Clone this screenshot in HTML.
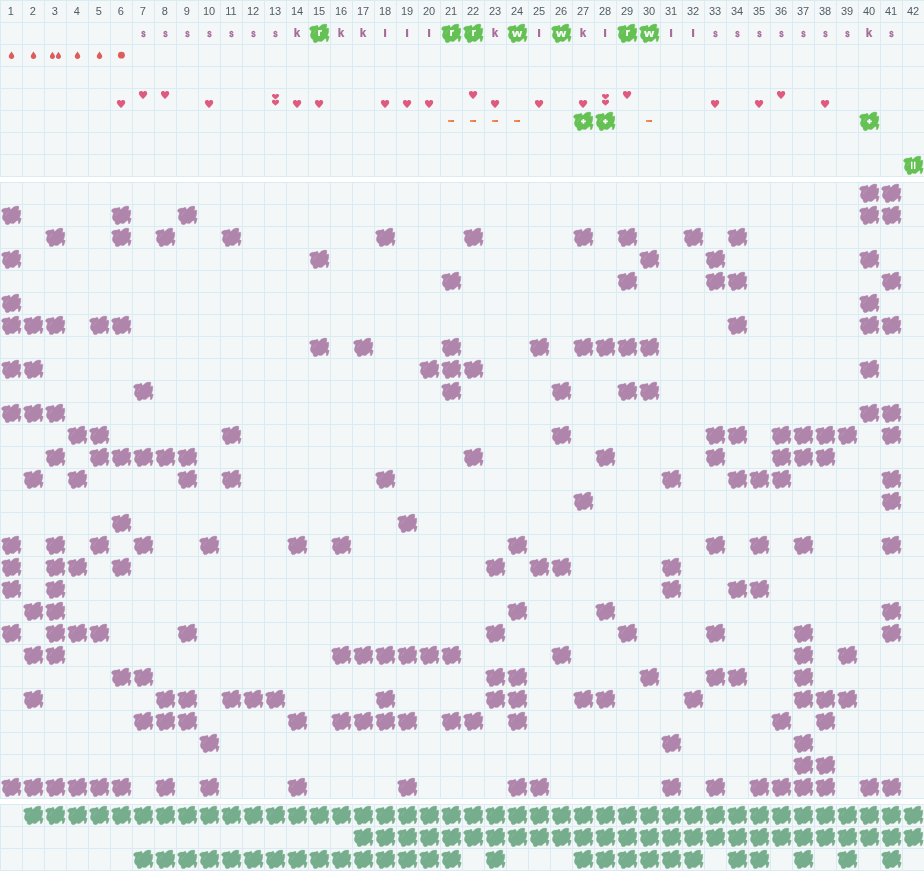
<!DOCTYPE html><html><head><meta charset="utf-8"><title>chart</title>
<style>html,body{margin:0;padding:0;background:#fff;}body{width:924px;height:871px;overflow:hidden;font-family:"Liberation Sans",sans-serif;}svg{display:block;will-change:transform;opacity:0.999;}text{font-family:"Liberation Sans",sans-serif;}</style></head><body>
<svg width="924" height="871" viewBox="0 0 924 871">
<defs>
<g id="b"><path d="M1.5 6.3 L2.5 5.05 L4.3 4.2 L7.4 4 L8.8 3.25 L9.85 3.5 L10.4 5.6 L11.4 5.1 L13.1 3.3 L15.15 2.3 L18.2 2 L18.9 2.8 L18.7 5.05 L18.2 6.8 L19.9 6.05 L20.8 6.3 L20.7 10.1 L19.95 12.6 L19.4 13.6 L21.3 14.4 L21 15.4 L20.45 17.7 L19.7 19.4 L18.4 19.7 L18.2 17.2 L17.7 16.2 L15.7 17.7 L13.9 19.4 L11.4 19.4 L10.6 18.9 L8.6 20.45 L6.6 20.7 L5.3 19.7 L5.05 17.7 L3.3 16.2 L2.3 14.1 L2.5 12.1 L3.3 10.1 L3 8.6 L1.8 7.8 Z" stroke-width="0.3" stroke-linejoin="round" stroke="currentColor" fill="currentColor"/><path d="M5.4 11.7 L8.7 7.3" stroke="#fff" stroke-opacity="0.4" stroke-width="0.5" stroke-dasharray="0.9 0.35" fill="none"/><path d="M3.3 9.3 L3.8 8.0" stroke="#fff" stroke-opacity="0.3" stroke-width="0.5" fill="none"/></g>
<path id="h" d="M5 9 C4.4 8.4 0 5.2 0 2.6 C0 1 1.1 0 2.6 0 C3.7 0 4.6 0.6 5 1.5 C5.4 0.6 6.3 0 7.4 0 C8.9 0 10 1 10 2.6 C10 5.2 5.6 8.4 5 9 Z"/>
<path id="d" d="M3 0 C3.6 1.4 6 3.4 6 5.2 C6 6.8 4.7 8 3 8 C1.3 8 0 6.8 0 5.2 C0 3.4 2.4 1.4 3 0 Z"/>
<linearGradient id="og" x1="0" x2="1" y1="0" y2="0"><stop offset="0" stop-color="#f69468"/><stop offset="1" stop-color="#ee6f40"/></linearGradient>
</defs>
<rect x="0" y="0" width="924" height="177" fill="#f4f7f8"/><path d="M0.5 0V177M22.5 0V177M44.5 0V177M66.5 0V177M88.5 0V177M110.5 0V177M132.5 0V177M154.5 0V177M176.5 0V177M198.5 0V177M220.5 0V177M242.5 0V177M264.5 0V177M286.5 0V177M308.5 0V177M330.5 0V177M352.5 0V177M374.5 0V177M396.5 0V177M418.5 0V177M440.5 0V177M462.5 0V177M484.5 0V177M506.5 0V177M528.5 0V177M550.5 0V177M572.5 0V177M594.5 0V177M616.5 0V177M638.5 0V177M660.5 0V177M682.5 0V177M704.5 0V177M726.5 0V177M748.5 0V177M770.5 0V177M792.5 0V177M814.5 0V177M836.5 0V177M858.5 0V177M880.5 0V177M902.5 0V177M924.5 0V177M0 0.5H924M0 22.5H924M0 44.5H924M0 66.5H924M0 88.5H924M0 110.5H924M0 132.5H924M0 154.5H924M0 176.5H924" stroke="#d9ebf3" stroke-width="1" fill="none" shape-rendering="crispEdges"/>
<rect x="0" y="182" width="924" height="617" fill="#f4f7f8"/><path d="M0.5 182V799M22.5 182V799M44.5 182V799M66.5 182V799M88.5 182V799M110.5 182V799M132.5 182V799M154.5 182V799M176.5 182V799M198.5 182V799M220.5 182V799M242.5 182V799M264.5 182V799M286.5 182V799M308.5 182V799M330.5 182V799M352.5 182V799M374.5 182V799M396.5 182V799M418.5 182V799M440.5 182V799M462.5 182V799M484.5 182V799M506.5 182V799M528.5 182V799M550.5 182V799M572.5 182V799M594.5 182V799M616.5 182V799M638.5 182V799M660.5 182V799M682.5 182V799M704.5 182V799M726.5 182V799M748.5 182V799M770.5 182V799M792.5 182V799M814.5 182V799M836.5 182V799M858.5 182V799M880.5 182V799M902.5 182V799M924.5 182V799M0 182.5H924M0 204.5H924M0 226.5H924M0 248.5H924M0 270.5H924M0 292.5H924M0 314.5H924M0 336.5H924M0 358.5H924M0 380.5H924M0 402.5H924M0 424.5H924M0 446.5H924M0 468.5H924M0 490.5H924M0 512.5H924M0 534.5H924M0 556.5H924M0 578.5H924M0 600.5H924M0 622.5H924M0 644.5H924M0 666.5H924M0 688.5H924M0 710.5H924M0 732.5H924M0 754.5H924M0 776.5H924M0 798.5H924" stroke="#d9ebf3" stroke-width="1" fill="none" shape-rendering="crispEdges"/>
<rect x="0" y="804" width="924" height="67" fill="#f4f7f8"/><path d="M0.5 804V871M22.5 804V871M44.5 804V871M66.5 804V871M88.5 804V871M110.5 804V871M132.5 804V871M154.5 804V871M176.5 804V871M198.5 804V871M220.5 804V871M242.5 804V871M264.5 804V871M286.5 804V871M308.5 804V871M330.5 804V871M352.5 804V871M374.5 804V871M396.5 804V871M418.5 804V871M440.5 804V871M462.5 804V871M484.5 804V871M506.5 804V871M528.5 804V871M550.5 804V871M572.5 804V871M594.5 804V871M616.5 804V871M638.5 804V871M660.5 804V871M682.5 804V871M704.5 804V871M726.5 804V871M748.5 804V871M770.5 804V871M792.5 804V871M814.5 804V871M836.5 804V871M858.5 804V871M880.5 804V871M902.5 804V871M924.5 804V871M0 804.5H924M0 826.5H924M0 848.5H924M0 870.5H924" stroke="#d9ebf3" stroke-width="1" fill="none" shape-rendering="crispEdges"/>
<g font-size="11" fill="#4e5d65" text-anchor="middle">
<text x="10.7" y="15">1</text>
<text x="32.7" y="15">2</text>
<text x="54.7" y="15">3</text>
<text x="76.7" y="15">4</text>
<text x="98.7" y="15">5</text>
<text x="120.7" y="15">6</text>
<text x="142.7" y="15">7</text>
<text x="164.7" y="15">8</text>
<text x="186.7" y="15">9</text>
<text x="209.0" y="15">10</text>
<text x="231.0" y="15">11</text>
<text x="253.0" y="15">12</text>
<text x="275.0" y="15">13</text>
<text x="297.0" y="15">14</text>
<text x="319.0" y="15">15</text>
<text x="341.0" y="15">16</text>
<text x="363.0" y="15">17</text>
<text x="385.0" y="15">18</text>
<text x="407.0" y="15">19</text>
<text x="429.0" y="15">20</text>
<text x="451.0" y="15">21</text>
<text x="473.0" y="15">22</text>
<text x="495.0" y="15">23</text>
<text x="517.0" y="15">24</text>
<text x="539.0" y="15">25</text>
<text x="561.0" y="15">26</text>
<text x="583.0" y="15">27</text>
<text x="605.0" y="15">28</text>
<text x="627.0" y="15">29</text>
<text x="649.0" y="15">30</text>
<text x="671.0" y="15">31</text>
<text x="693.0" y="15">32</text>
<text x="715.0" y="15">33</text>
<text x="737.0" y="15">34</text>
<text x="759.0" y="15">35</text>
<text x="781.0" y="15">36</text>
<text x="803.0" y="15">37</text>
<text x="825.0" y="15">38</text>
<text x="847.0" y="15">39</text>
<text x="869.0" y="15">40</text>
<text x="891.0" y="15">41</text>
<text x="913.0" y="15">42</text>
</g>
<use href="#b" x="308" y="22" color="#65c154"/>
<use href="#b" x="440" y="22" color="#65c154"/>
<use href="#b" x="462" y="22" color="#65c154"/>
<use href="#b" x="506" y="22" color="#65c154"/>
<use href="#b" x="550" y="22" color="#65c154"/>
<use href="#b" x="616" y="22" color="#65c154"/>
<use href="#b" x="638" y="22" color="#65c154"/>
<g font-size="12" font-weight="bold" text-anchor="middle">
<text transform="translate(143.5 36.9) scale(0.66 0.93)" fill="#a66b99" stroke="#a66b99" stroke-width="0.5">s</text>
<text transform="translate(165.5 36.9) scale(0.66 0.93)" fill="#a66b99" stroke="#a66b99" stroke-width="0.5">s</text>
<text transform="translate(187.5 36.9) scale(0.66 0.93)" fill="#a66b99" stroke="#a66b99" stroke-width="0.5">s</text>
<text transform="translate(209.5 36.9) scale(0.66 0.93)" fill="#a66b99" stroke="#a66b99" stroke-width="0.5">s</text>
<text transform="translate(231.5 36.9) scale(0.66 0.93)" fill="#a66b99" stroke="#a66b99" stroke-width="0.5">s</text>
<text transform="translate(253.5 36.9) scale(0.66 0.93)" fill="#a66b99" stroke="#a66b99" stroke-width="0.5">s</text>
<text transform="translate(275.5 36.9) scale(0.66 0.93)" fill="#a66b99" stroke="#a66b99" stroke-width="0.5">s</text>
<text transform="translate(297.1 37) scale(0.97 1.0)" fill="#a66b99" stroke="#a66b99" stroke-width="0.25">k</text>
<text transform="translate(319.6 36.1) scale(0.95 0.95)" fill="#fff" stroke="#fff" stroke-width="0.25">r</text>
<text transform="translate(341.1 37) scale(0.97 1.0)" fill="#a66b99" stroke="#a66b99" stroke-width="0.25">k</text>
<text transform="translate(363.1 37) scale(0.97 1.0)" fill="#a66b99" stroke="#a66b99" stroke-width="0.25">k</text>
<rect x="384.05" y="29" width="2.1" height="8" fill="#a66b99"/>
<rect x="406.05" y="29" width="2.1" height="8" fill="#a66b99"/>
<rect x="428.05" y="29" width="2.1" height="8" fill="#a66b99"/>
<text transform="translate(451.6 36.1) scale(0.95 0.95)" fill="#fff" stroke="#fff" stroke-width="0.25">r</text>
<text transform="translate(473.6 36.1) scale(0.95 0.95)" fill="#fff" stroke="#fff" stroke-width="0.25">r</text>
<text transform="translate(495.1 37) scale(0.97 1.0)" fill="#a66b99" stroke="#a66b99" stroke-width="0.25">k</text>
<text transform="translate(517.2 37) scale(1.05 0.95)" fill="#fff" stroke="#fff" stroke-width="0.25">w</text>
<rect x="538.05" y="29" width="2.1" height="8" fill="#a66b99"/>
<text transform="translate(561.2 37) scale(1.05 0.95)" fill="#fff" stroke="#fff" stroke-width="0.25">w</text>
<text transform="translate(583.1 37) scale(0.97 1.0)" fill="#a66b99" stroke="#a66b99" stroke-width="0.25">k</text>
<rect x="604.05" y="29" width="2.1" height="8" fill="#a66b99"/>
<text transform="translate(627.6 36.1) scale(0.95 0.95)" fill="#fff" stroke="#fff" stroke-width="0.25">r</text>
<text transform="translate(649.2 37) scale(1.05 0.95)" fill="#fff" stroke="#fff" stroke-width="0.25">w</text>
<rect x="670.05" y="29" width="2.1" height="8" fill="#a66b99"/>
<rect x="692.05" y="29" width="2.1" height="8" fill="#a66b99"/>
<text transform="translate(715.5 36.9) scale(0.66 0.93)" fill="#a66b99" stroke="#a66b99" stroke-width="0.5">s</text>
<text transform="translate(737.5 36.9) scale(0.66 0.93)" fill="#a66b99" stroke="#a66b99" stroke-width="0.5">s</text>
<text transform="translate(759.5 36.9) scale(0.66 0.93)" fill="#a66b99" stroke="#a66b99" stroke-width="0.5">s</text>
<text transform="translate(781.5 36.9) scale(0.66 0.93)" fill="#a66b99" stroke="#a66b99" stroke-width="0.5">s</text>
<text transform="translate(803.5 36.9) scale(0.66 0.93)" fill="#a66b99" stroke="#a66b99" stroke-width="0.5">s</text>
<text transform="translate(825.5 36.9) scale(0.66 0.93)" fill="#a66b99" stroke="#a66b99" stroke-width="0.5">s</text>
<text transform="translate(847.5 36.9) scale(0.66 0.93)" fill="#a66b99" stroke="#a66b99" stroke-width="0.5">s</text>
<text transform="translate(869.1 37) scale(0.97 1.0)" fill="#a66b99" stroke="#a66b99" stroke-width="0.25">k</text>
<text transform="translate(891.5 36.9) scale(0.66 0.93)" fill="#a66b99" stroke="#a66b99" stroke-width="0.5">s</text>
</g>
<g fill="#dd5c5c">
<use href="#d" transform="translate(8.75 51.4) scale(0.92 0.95)"/>
<use href="#d" transform="translate(30.75 51.4) scale(0.92 0.95)"/>
<use href="#d" transform="translate(49.9 51.7) scale(0.85 0.91)"/>
<use href="#d" transform="translate(55.9 51.7) scale(0.85 0.91)"/>
<use href="#d" transform="translate(74.75 51.4) scale(0.92 0.95)"/>
<use href="#d" transform="translate(96.75 51.4) scale(0.92 0.95)"/>
<circle cx="121.4" cy="55.15" r="3.45"/>
</g>
<g fill="#de5a7e">
<use href="#h" transform="translate(116.9 100) scale(0.83 0.89)"/>
<use href="#h" transform="translate(138.9 90.9) scale(0.83 0.89)"/>
<use href="#h" transform="translate(160.9 90.9) scale(0.83 0.89)"/>
<use href="#h" transform="translate(204.9 100) scale(0.83 0.89)"/>
<use href="#h" transform="translate(271.9 93.9) scale(0.72 0.6)"/>
<use href="#h" transform="translate(271.9 99.7) scale(0.72 0.65)"/>
<use href="#h" transform="translate(292.9 100) scale(0.83 0.89)"/>
<use href="#h" transform="translate(314.9 100) scale(0.83 0.89)"/>
<use href="#h" transform="translate(380.9 100) scale(0.83 0.89)"/>
<use href="#h" transform="translate(402.9 100) scale(0.83 0.89)"/>
<use href="#h" transform="translate(424.9 100) scale(0.83 0.89)"/>
<use href="#h" transform="translate(468.9 90.9) scale(0.83 0.89)"/>
<use href="#h" transform="translate(490.9 100) scale(0.83 0.89)"/>
<use href="#h" transform="translate(534.9 100) scale(0.83 0.89)"/>
<use href="#h" transform="translate(578.9 100) scale(0.83 0.89)"/>
<use href="#h" transform="translate(601.9 93.9) scale(0.72 0.6)"/>
<use href="#h" transform="translate(601.9 99.7) scale(0.72 0.65)"/>
<use href="#h" transform="translate(622.9 90.9) scale(0.83 0.89)"/>
<use href="#h" transform="translate(710.9 100) scale(0.83 0.89)"/>
<use href="#h" transform="translate(754.9 100) scale(0.83 0.89)"/>
<use href="#h" transform="translate(776.9 90.9) scale(0.83 0.89)"/>
<use href="#h" transform="translate(820.9 100) scale(0.83 0.89)"/>
</g>
<rect x="448" y="120" width="6" height="2" fill="url(#og)"/>
<rect x="470" y="120" width="6" height="2" fill="url(#og)"/>
<rect x="492" y="120" width="6" height="2" fill="url(#og)"/>
<rect x="514" y="120" width="6" height="2" fill="url(#og)"/>
<rect x="646" y="120" width="6" height="2" fill="url(#og)"/>
<use href="#b" x="572" y="110" color="#65c154"/>
<path d="M581 121.4h4.8M583.4 119v4.8" stroke="#fff" stroke-width="1.7" fill="none"/>
<use href="#b" x="594" y="110" color="#65c154"/>
<path d="M603 121.4h4.8M605.4 119v4.8" stroke="#fff" stroke-width="1.7" fill="none"/>
<use href="#b" x="858" y="110" color="#65c154"/>
<path d="M867 121.4h4.8M869.4 119v4.8" stroke="#fff" stroke-width="1.7" fill="none"/>
<use href="#b" x="902" y="154" color="#65c154"/>
<path d="M911.7 161.7v7.3M914.7 161.7v7.3" stroke="#fff" stroke-width="1.4" fill="none"/>
<use href="#b" x="858" y="182" color="#b085ab"/>
<use href="#b" x="880" y="182" color="#b085ab"/>
<use href="#b" x="0" y="204" color="#b085ab"/>
<use href="#b" x="110" y="204" color="#b085ab"/>
<use href="#b" x="176" y="204" color="#b085ab"/>
<use href="#b" x="858" y="204" color="#b085ab"/>
<use href="#b" x="880" y="204" color="#b085ab"/>
<use href="#b" x="44" y="226" color="#b085ab"/>
<use href="#b" x="110" y="226" color="#b085ab"/>
<use href="#b" x="154" y="226" color="#b085ab"/>
<use href="#b" x="220" y="226" color="#b085ab"/>
<use href="#b" x="374" y="226" color="#b085ab"/>
<use href="#b" x="462" y="226" color="#b085ab"/>
<use href="#b" x="572" y="226" color="#b085ab"/>
<use href="#b" x="616" y="226" color="#b085ab"/>
<use href="#b" x="682" y="226" color="#b085ab"/>
<use href="#b" x="726" y="226" color="#b085ab"/>
<use href="#b" x="0" y="248" color="#b085ab"/>
<use href="#b" x="308" y="248" color="#b085ab"/>
<use href="#b" x="638" y="248" color="#b085ab"/>
<use href="#b" x="704" y="248" color="#b085ab"/>
<use href="#b" x="858" y="248" color="#b085ab"/>
<use href="#b" x="440" y="270" color="#b085ab"/>
<use href="#b" x="616" y="270" color="#b085ab"/>
<use href="#b" x="704" y="270" color="#b085ab"/>
<use href="#b" x="726" y="270" color="#b085ab"/>
<use href="#b" x="880" y="270" color="#b085ab"/>
<use href="#b" x="0" y="292" color="#b085ab"/>
<use href="#b" x="858" y="292" color="#b085ab"/>
<use href="#b" x="0" y="314" color="#b085ab"/>
<use href="#b" x="22" y="314" color="#b085ab"/>
<use href="#b" x="44" y="314" color="#b085ab"/>
<use href="#b" x="88" y="314" color="#b085ab"/>
<use href="#b" x="110" y="314" color="#b085ab"/>
<use href="#b" x="726" y="314" color="#b085ab"/>
<use href="#b" x="858" y="314" color="#b085ab"/>
<use href="#b" x="880" y="314" color="#b085ab"/>
<use href="#b" x="308" y="336" color="#b085ab"/>
<use href="#b" x="352" y="336" color="#b085ab"/>
<use href="#b" x="440" y="336" color="#b085ab"/>
<use href="#b" x="528" y="336" color="#b085ab"/>
<use href="#b" x="572" y="336" color="#b085ab"/>
<use href="#b" x="594" y="336" color="#b085ab"/>
<use href="#b" x="616" y="336" color="#b085ab"/>
<use href="#b" x="638" y="336" color="#b085ab"/>
<use href="#b" x="0" y="358" color="#b085ab"/>
<use href="#b" x="22" y="358" color="#b085ab"/>
<use href="#b" x="418" y="358" color="#b085ab"/>
<use href="#b" x="440" y="358" color="#b085ab"/>
<use href="#b" x="462" y="358" color="#b085ab"/>
<use href="#b" x="858" y="358" color="#b085ab"/>
<use href="#b" x="132" y="380" color="#b085ab"/>
<use href="#b" x="440" y="380" color="#b085ab"/>
<use href="#b" x="550" y="380" color="#b085ab"/>
<use href="#b" x="616" y="380" color="#b085ab"/>
<use href="#b" x="638" y="380" color="#b085ab"/>
<use href="#b" x="0" y="402" color="#b085ab"/>
<use href="#b" x="22" y="402" color="#b085ab"/>
<use href="#b" x="44" y="402" color="#b085ab"/>
<use href="#b" x="858" y="402" color="#b085ab"/>
<use href="#b" x="880" y="402" color="#b085ab"/>
<use href="#b" x="66" y="424" color="#b085ab"/>
<use href="#b" x="88" y="424" color="#b085ab"/>
<use href="#b" x="220" y="424" color="#b085ab"/>
<use href="#b" x="550" y="424" color="#b085ab"/>
<use href="#b" x="704" y="424" color="#b085ab"/>
<use href="#b" x="726" y="424" color="#b085ab"/>
<use href="#b" x="770" y="424" color="#b085ab"/>
<use href="#b" x="792" y="424" color="#b085ab"/>
<use href="#b" x="814" y="424" color="#b085ab"/>
<use href="#b" x="836" y="424" color="#b085ab"/>
<use href="#b" x="880" y="424" color="#b085ab"/>
<use href="#b" x="44" y="446" color="#b085ab"/>
<use href="#b" x="88" y="446" color="#b085ab"/>
<use href="#b" x="110" y="446" color="#b085ab"/>
<use href="#b" x="132" y="446" color="#b085ab"/>
<use href="#b" x="154" y="446" color="#b085ab"/>
<use href="#b" x="176" y="446" color="#b085ab"/>
<use href="#b" x="462" y="446" color="#b085ab"/>
<use href="#b" x="594" y="446" color="#b085ab"/>
<use href="#b" x="704" y="446" color="#b085ab"/>
<use href="#b" x="770" y="446" color="#b085ab"/>
<use href="#b" x="792" y="446" color="#b085ab"/>
<use href="#b" x="814" y="446" color="#b085ab"/>
<use href="#b" x="22" y="468" color="#b085ab"/>
<use href="#b" x="66" y="468" color="#b085ab"/>
<use href="#b" x="176" y="468" color="#b085ab"/>
<use href="#b" x="220" y="468" color="#b085ab"/>
<use href="#b" x="374" y="468" color="#b085ab"/>
<use href="#b" x="660" y="468" color="#b085ab"/>
<use href="#b" x="726" y="468" color="#b085ab"/>
<use href="#b" x="748" y="468" color="#b085ab"/>
<use href="#b" x="770" y="468" color="#b085ab"/>
<use href="#b" x="880" y="468" color="#b085ab"/>
<use href="#b" x="572" y="490" color="#b085ab"/>
<use href="#b" x="880" y="490" color="#b085ab"/>
<use href="#b" x="110" y="512" color="#b085ab"/>
<use href="#b" x="396" y="512" color="#b085ab"/>
<use href="#b" x="0" y="534" color="#b085ab"/>
<use href="#b" x="44" y="534" color="#b085ab"/>
<use href="#b" x="88" y="534" color="#b085ab"/>
<use href="#b" x="132" y="534" color="#b085ab"/>
<use href="#b" x="198" y="534" color="#b085ab"/>
<use href="#b" x="286" y="534" color="#b085ab"/>
<use href="#b" x="330" y="534" color="#b085ab"/>
<use href="#b" x="506" y="534" color="#b085ab"/>
<use href="#b" x="704" y="534" color="#b085ab"/>
<use href="#b" x="748" y="534" color="#b085ab"/>
<use href="#b" x="792" y="534" color="#b085ab"/>
<use href="#b" x="880" y="534" color="#b085ab"/>
<use href="#b" x="0" y="556" color="#b085ab"/>
<use href="#b" x="44" y="556" color="#b085ab"/>
<use href="#b" x="66" y="556" color="#b085ab"/>
<use href="#b" x="110" y="556" color="#b085ab"/>
<use href="#b" x="484" y="556" color="#b085ab"/>
<use href="#b" x="528" y="556" color="#b085ab"/>
<use href="#b" x="550" y="556" color="#b085ab"/>
<use href="#b" x="660" y="556" color="#b085ab"/>
<use href="#b" x="0" y="578" color="#b085ab"/>
<use href="#b" x="44" y="578" color="#b085ab"/>
<use href="#b" x="660" y="578" color="#b085ab"/>
<use href="#b" x="726" y="578" color="#b085ab"/>
<use href="#b" x="748" y="578" color="#b085ab"/>
<use href="#b" x="22" y="600" color="#b085ab"/>
<use href="#b" x="44" y="600" color="#b085ab"/>
<use href="#b" x="506" y="600" color="#b085ab"/>
<use href="#b" x="594" y="600" color="#b085ab"/>
<use href="#b" x="880" y="600" color="#b085ab"/>
<use href="#b" x="0" y="622" color="#b085ab"/>
<use href="#b" x="44" y="622" color="#b085ab"/>
<use href="#b" x="66" y="622" color="#b085ab"/>
<use href="#b" x="88" y="622" color="#b085ab"/>
<use href="#b" x="176" y="622" color="#b085ab"/>
<use href="#b" x="484" y="622" color="#b085ab"/>
<use href="#b" x="616" y="622" color="#b085ab"/>
<use href="#b" x="704" y="622" color="#b085ab"/>
<use href="#b" x="792" y="622" color="#b085ab"/>
<use href="#b" x="880" y="622" color="#b085ab"/>
<use href="#b" x="22" y="644" color="#b085ab"/>
<use href="#b" x="44" y="644" color="#b085ab"/>
<use href="#b" x="330" y="644" color="#b085ab"/>
<use href="#b" x="352" y="644" color="#b085ab"/>
<use href="#b" x="374" y="644" color="#b085ab"/>
<use href="#b" x="396" y="644" color="#b085ab"/>
<use href="#b" x="418" y="644" color="#b085ab"/>
<use href="#b" x="440" y="644" color="#b085ab"/>
<use href="#b" x="550" y="644" color="#b085ab"/>
<use href="#b" x="792" y="644" color="#b085ab"/>
<use href="#b" x="836" y="644" color="#b085ab"/>
<use href="#b" x="110" y="666" color="#b085ab"/>
<use href="#b" x="132" y="666" color="#b085ab"/>
<use href="#b" x="484" y="666" color="#b085ab"/>
<use href="#b" x="506" y="666" color="#b085ab"/>
<use href="#b" x="638" y="666" color="#b085ab"/>
<use href="#b" x="704" y="666" color="#b085ab"/>
<use href="#b" x="726" y="666" color="#b085ab"/>
<use href="#b" x="792" y="666" color="#b085ab"/>
<use href="#b" x="22" y="688" color="#b085ab"/>
<use href="#b" x="154" y="688" color="#b085ab"/>
<use href="#b" x="176" y="688" color="#b085ab"/>
<use href="#b" x="220" y="688" color="#b085ab"/>
<use href="#b" x="242" y="688" color="#b085ab"/>
<use href="#b" x="264" y="688" color="#b085ab"/>
<use href="#b" x="374" y="688" color="#b085ab"/>
<use href="#b" x="484" y="688" color="#b085ab"/>
<use href="#b" x="506" y="688" color="#b085ab"/>
<use href="#b" x="572" y="688" color="#b085ab"/>
<use href="#b" x="594" y="688" color="#b085ab"/>
<use href="#b" x="682" y="688" color="#b085ab"/>
<use href="#b" x="792" y="688" color="#b085ab"/>
<use href="#b" x="814" y="688" color="#b085ab"/>
<use href="#b" x="836" y="688" color="#b085ab"/>
<use href="#b" x="132" y="710" color="#b085ab"/>
<use href="#b" x="154" y="710" color="#b085ab"/>
<use href="#b" x="176" y="710" color="#b085ab"/>
<use href="#b" x="286" y="710" color="#b085ab"/>
<use href="#b" x="330" y="710" color="#b085ab"/>
<use href="#b" x="352" y="710" color="#b085ab"/>
<use href="#b" x="374" y="710" color="#b085ab"/>
<use href="#b" x="396" y="710" color="#b085ab"/>
<use href="#b" x="440" y="710" color="#b085ab"/>
<use href="#b" x="462" y="710" color="#b085ab"/>
<use href="#b" x="506" y="710" color="#b085ab"/>
<use href="#b" x="770" y="710" color="#b085ab"/>
<use href="#b" x="814" y="710" color="#b085ab"/>
<use href="#b" x="198" y="732" color="#b085ab"/>
<use href="#b" x="660" y="732" color="#b085ab"/>
<use href="#b" x="792" y="732" color="#b085ab"/>
<use href="#b" x="792" y="754" color="#b085ab"/>
<use href="#b" x="814" y="754" color="#b085ab"/>
<use href="#b" x="0" y="776" color="#b085ab"/>
<use href="#b" x="22" y="776" color="#b085ab"/>
<use href="#b" x="44" y="776" color="#b085ab"/>
<use href="#b" x="66" y="776" color="#b085ab"/>
<use href="#b" x="88" y="776" color="#b085ab"/>
<use href="#b" x="110" y="776" color="#b085ab"/>
<use href="#b" x="154" y="776" color="#b085ab"/>
<use href="#b" x="198" y="776" color="#b085ab"/>
<use href="#b" x="286" y="776" color="#b085ab"/>
<use href="#b" x="396" y="776" color="#b085ab"/>
<use href="#b" x="506" y="776" color="#b085ab"/>
<use href="#b" x="528" y="776" color="#b085ab"/>
<use href="#b" x="660" y="776" color="#b085ab"/>
<use href="#b" x="704" y="776" color="#b085ab"/>
<use href="#b" x="748" y="776" color="#b085ab"/>
<use href="#b" x="770" y="776" color="#b085ab"/>
<use href="#b" x="792" y="776" color="#b085ab"/>
<use href="#b" x="814" y="776" color="#b085ab"/>
<use href="#b" x="858" y="776" color="#b085ab"/>
<use href="#b" x="880" y="776" color="#b085ab"/>
<use href="#b" x="22" y="804" color="#76ad8c"/>
<use href="#b" x="44" y="804" color="#76ad8c"/>
<use href="#b" x="66" y="804" color="#76ad8c"/>
<use href="#b" x="88" y="804" color="#76ad8c"/>
<use href="#b" x="110" y="804" color="#76ad8c"/>
<use href="#b" x="132" y="804" color="#76ad8c"/>
<use href="#b" x="154" y="804" color="#76ad8c"/>
<use href="#b" x="176" y="804" color="#76ad8c"/>
<use href="#b" x="198" y="804" color="#76ad8c"/>
<use href="#b" x="220" y="804" color="#76ad8c"/>
<use href="#b" x="242" y="804" color="#76ad8c"/>
<use href="#b" x="264" y="804" color="#76ad8c"/>
<use href="#b" x="286" y="804" color="#76ad8c"/>
<use href="#b" x="308" y="804" color="#76ad8c"/>
<use href="#b" x="330" y="804" color="#76ad8c"/>
<use href="#b" x="352" y="804" color="#76ad8c"/>
<use href="#b" x="374" y="804" color="#76ad8c"/>
<use href="#b" x="396" y="804" color="#76ad8c"/>
<use href="#b" x="418" y="804" color="#76ad8c"/>
<use href="#b" x="440" y="804" color="#76ad8c"/>
<use href="#b" x="462" y="804" color="#76ad8c"/>
<use href="#b" x="484" y="804" color="#76ad8c"/>
<use href="#b" x="506" y="804" color="#76ad8c"/>
<use href="#b" x="528" y="804" color="#76ad8c"/>
<use href="#b" x="550" y="804" color="#76ad8c"/>
<use href="#b" x="572" y="804" color="#76ad8c"/>
<use href="#b" x="594" y="804" color="#76ad8c"/>
<use href="#b" x="616" y="804" color="#76ad8c"/>
<use href="#b" x="638" y="804" color="#76ad8c"/>
<use href="#b" x="660" y="804" color="#76ad8c"/>
<use href="#b" x="682" y="804" color="#76ad8c"/>
<use href="#b" x="704" y="804" color="#76ad8c"/>
<use href="#b" x="726" y="804" color="#76ad8c"/>
<use href="#b" x="748" y="804" color="#76ad8c"/>
<use href="#b" x="770" y="804" color="#76ad8c"/>
<use href="#b" x="792" y="804" color="#76ad8c"/>
<use href="#b" x="814" y="804" color="#76ad8c"/>
<use href="#b" x="836" y="804" color="#76ad8c"/>
<use href="#b" x="858" y="804" color="#76ad8c"/>
<use href="#b" x="880" y="804" color="#76ad8c"/>
<use href="#b" x="902" y="804" color="#76ad8c"/>
<use href="#b" x="352" y="826" color="#76ad8c"/>
<use href="#b" x="374" y="826" color="#76ad8c"/>
<use href="#b" x="396" y="826" color="#76ad8c"/>
<use href="#b" x="418" y="826" color="#76ad8c"/>
<use href="#b" x="440" y="826" color="#76ad8c"/>
<use href="#b" x="462" y="826" color="#76ad8c"/>
<use href="#b" x="484" y="826" color="#76ad8c"/>
<use href="#b" x="506" y="826" color="#76ad8c"/>
<use href="#b" x="528" y="826" color="#76ad8c"/>
<use href="#b" x="550" y="826" color="#76ad8c"/>
<use href="#b" x="572" y="826" color="#76ad8c"/>
<use href="#b" x="594" y="826" color="#76ad8c"/>
<use href="#b" x="616" y="826" color="#76ad8c"/>
<use href="#b" x="638" y="826" color="#76ad8c"/>
<use href="#b" x="660" y="826" color="#76ad8c"/>
<use href="#b" x="682" y="826" color="#76ad8c"/>
<use href="#b" x="704" y="826" color="#76ad8c"/>
<use href="#b" x="726" y="826" color="#76ad8c"/>
<use href="#b" x="748" y="826" color="#76ad8c"/>
<use href="#b" x="770" y="826" color="#76ad8c"/>
<use href="#b" x="792" y="826" color="#76ad8c"/>
<use href="#b" x="814" y="826" color="#76ad8c"/>
<use href="#b" x="836" y="826" color="#76ad8c"/>
<use href="#b" x="858" y="826" color="#76ad8c"/>
<use href="#b" x="880" y="826" color="#76ad8c"/>
<use href="#b" x="902" y="826" color="#76ad8c"/>
<use href="#b" x="132" y="848" color="#76ad8c"/>
<use href="#b" x="154" y="848" color="#76ad8c"/>
<use href="#b" x="176" y="848" color="#76ad8c"/>
<use href="#b" x="198" y="848" color="#76ad8c"/>
<use href="#b" x="220" y="848" color="#76ad8c"/>
<use href="#b" x="242" y="848" color="#76ad8c"/>
<use href="#b" x="264" y="848" color="#76ad8c"/>
<use href="#b" x="286" y="848" color="#76ad8c"/>
<use href="#b" x="308" y="848" color="#76ad8c"/>
<use href="#b" x="330" y="848" color="#76ad8c"/>
<use href="#b" x="352" y="848" color="#76ad8c"/>
<use href="#b" x="374" y="848" color="#76ad8c"/>
<use href="#b" x="396" y="848" color="#76ad8c"/>
<use href="#b" x="418" y="848" color="#76ad8c"/>
<use href="#b" x="440" y="848" color="#76ad8c"/>
<use href="#b" x="484" y="848" color="#76ad8c"/>
<use href="#b" x="572" y="848" color="#76ad8c"/>
<use href="#b" x="594" y="848" color="#76ad8c"/>
<use href="#b" x="616" y="848" color="#76ad8c"/>
<use href="#b" x="638" y="848" color="#76ad8c"/>
<use href="#b" x="660" y="848" color="#76ad8c"/>
<use href="#b" x="682" y="848" color="#76ad8c"/>
<use href="#b" x="726" y="848" color="#76ad8c"/>
<use href="#b" x="748" y="848" color="#76ad8c"/>
<use href="#b" x="792" y="848" color="#76ad8c"/>
<use href="#b" x="836" y="848" color="#76ad8c"/>
<use href="#b" x="880" y="848" color="#76ad8c"/>
</svg></body></html>
